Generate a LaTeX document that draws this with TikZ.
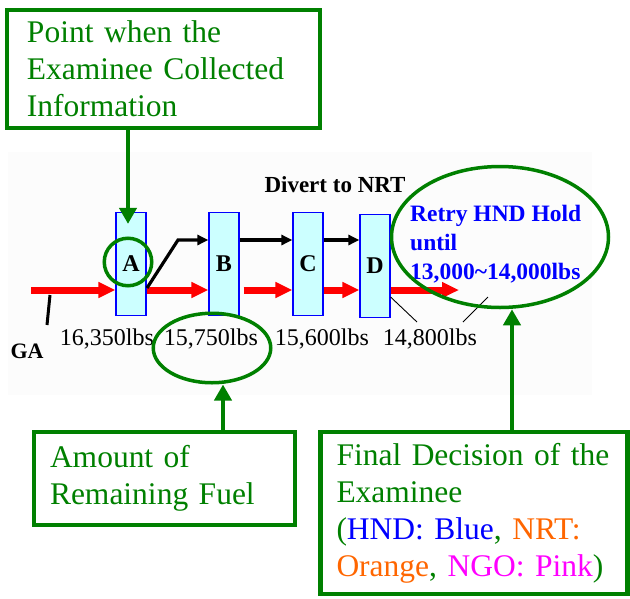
\documentclass[tikz,border=0pt]{standalone}
\usepackage{fontspec}
\setmainfont{Liberation Serif}
\usetikzlibrary{arrows.meta,calc,positioning,shapes.geometric}
\definecolor{noteGreen}{RGB}{0,128,0}
\definecolor{fixFill}{RGB}{204,255,255}
\definecolor{nrtOrange}{RGB}{255,102,0}
\definecolor{ngoPink}{RGB}{255,0,255}
\definecolor{shotBg}{RGB}{252,252,252}

\begin{document}
\begin{tikzpicture}[x=1pt, y=-1pt, every node/.style={inner sep=0pt},
  fix/.style={draw=blue, line width=1.2pt, fill=fixFill, minimum width=30pt,
    minimum height=103pt, font=\fontsize{24}{24}\selectfont\bfseries},
  note/.style={draw=noteGreen, line width=4.5pt, text=noteGreen, align=left,
    font=\fontsize{31.5}{37}\selectfont},
  fuel/.style={font=\fontsize{24}{24}\selectfont, anchor=base},
  ring/.style={draw=noteGreen, line width=3.5pt},
  pointer/.style={draw=noteGreen, line width=4pt, -{Triangle[length=16pt,width=17pt]}},
  redflow/.style={red, line width=7pt, -{Triangle[length=17pt,width=15pt]}},
  divflow/.style={black, line width=3.2pt, -{Triangle[length=11pt,width=10pt]}}]
  \useasboundingbox (0,0) rectangle (630,598);
  % screenshot of the flight plan (faint background)
  \fill[shotBg] (8,152) rectangle (592,395);
  \node[fix] (fixA) at (131,264) {A};
  \node[fix] (fixB) at (224,264) {B};
  \node[fix] (fixC) at (308,264) {C};
  \node[fix] (fixD) at (375,266) {D};
  % red: planned route to HND
  \coordinate (gaIn) at (31,290);
  \coordinate (redOut) at (459,290);
  \draw[redflow] (gaIn) -- (fixA.west |- gaIn);
  \draw[redflow] (fixA.east |- gaIn) -- (fixB.west |- gaIn);
  \draw[redflow] ([xshift=4pt]fixB.east |- gaIn) -- (fixC.west |- gaIn);
  \draw[redflow] (fixC.east |- gaIn) -- (fixD.west |- gaIn);
  \draw[redflow] (fixD.east |- gaIn) -- (redOut);
  % black: divert branch
  \coordinate (divStart) at (147,288);
  \coordinate (divKnee) at (178,240);
  \draw[divflow] (divStart) -- (divKnee) -- (fixB.west |- divKnee);
  \draw[divflow] (fixB.east |- divKnee) -- (fixC.west |- divKnee);
  \draw[divflow] (fixC.east |- divKnee) -- (fixD.west |- divKnee);
  \node[font=\fontsize{23}{23}\selectfont\bfseries, anchor=base] (divert) at (335,192) {Divert to NRT};
  % go-around
  \coordinate (gaTop) at (50,295);
  \coordinate (gaFoot) at (47,325);
  \draw[line width=3pt] (gaTop) -- (gaFoot);
  \node[font=\fontsize{22}{22}\selectfont\bfseries, anchor=base] (ga) at (27,358) {GA};
  % remaining fuel at each point
  \foreach \x/\nm/\txt in {107/fuelA/{16,350lbs}, 211/fuelB/{15,750lbs},
                           322/fuelC/{15,600lbs}, 430/fuelD/{14,800lbs}}{
    \node[fuel] (\nm) at (\x,345) {\txt};
  }
  \coordinate (leadL) at (417,322);
  \coordinate (leadR) at (463,322);
  \coordinate (leadTip) at (488,297);
  \draw[line width=0.9pt] (leadL) -- ($(fixD.east)+(0,31)$);
  \draw[line width=0.9pt] (leadR) -- (leadTip);
  \node[anchor=north west, text=blue, align=left,
        font=\fontsize{23.5}{29}\selectfont\bfseries] (retry) at (410,205)
        {Retry HND Hold\\until\\13,000\textasciitilde 14,000lbs};
  % green call-outs
  \node[ring, circle, minimum size=47.5pt] (ringA) at (128,262) {};
  \node[ring, ellipse, minimum width=117.5pt, minimum height=69.5pt] (ringFuel) at (212,348) {};
  \node[ring, ellipse, minimum width=217pt, minimum height=141pt] (ringFinal) at (500,237) {};
  \node[note, text width=273pt, inner xsep=20pt, minimum height=118pt] (collect) at (163.5,69)
        {Point when the\\Examinee Collected\\Information};
  \node[note, text width=229pt, inner xsep=16pt, minimum height=93pt] (amount) at (164.5,478.5)
        {Amount of\\Remaining Fuel};
  \node[note, text width=275pt, inner xsep=16pt, minimum height=162pt] (final) at (474,513)
        {Final Decision of the\\Examinee\\(\textcolor{blue}{HND: Blue}, \textcolor{nrtOrange}{NRT:}\\%
         \textcolor{nrtOrange}{Orange}, \textcolor{ngoPink}{NGO: Pink})};
  \draw[pointer] (ringA |- collect.south) -- ([yshift=-12pt]fixA.north -| ringA);
  \draw[pointer] ([xshift=11pt]ringFuel.south |- amount.north) -- ([xshift=11pt]ringFuel.south);
  \draw[pointer] ([xshift=12pt]ringFinal.south |- final.north) -- ([xshift=12pt]ringFinal.south);
\end{tikzpicture}
\end{document}
